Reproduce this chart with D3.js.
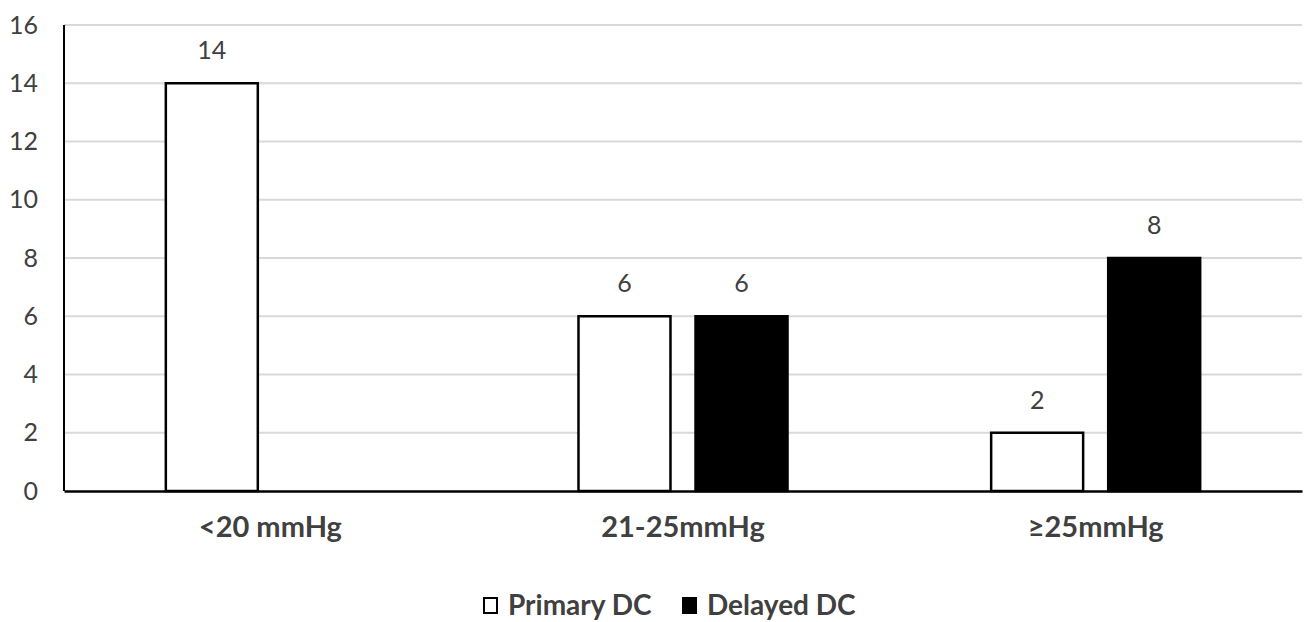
<!DOCTYPE html>
<html>
<head>
<meta charset="utf-8">
<script src="https://cdn.jsdelivr.net/npm/d3@7"></script>
<style>
  body { margin: 0; background: #fff; }
  text { font-family: Lato, "Open Sans", sans-serif; }
</style>
</head>
<body>
<div id="chart"></div>
<script>
var categories = ['<20 mmHg', '21-25mmHg', '\u226525mmHg'];
var series = ['Primary DC', 'Delayed DC'];
var primary = [14, 6, 2];
var delayed = [null, 6, 8];
var yTicks = [0, 2, 4, 6, 8, 10, 12, 14, 16];

var
  w = 1306,
  h = 622,
  mLeft = 64,
  mRight = 1302,
  mTop = 25,
  mBottom = 491,
  fills = {'Primary DC': '#fff', 'Delayed DC': '#000'};

var rows = categories.map(function(c, i) {
  return {cat: c, values: [{key: series[0], v: primary[i]}, {key: series[1], v: delayed[i]}]};
});

var x0 = d3.scaleBand().domain(categories).range([mLeft, mRight]);
var x1 = d3.scaleBand().domain(series).range([0, x0.bandwidth()])
  .paddingInner(0.214).paddingOuter(0.87);
var y = d3.scaleLinear().domain([0, 16]).range([mBottom, mTop]);

var svg = d3.select('#chart').append('svg')
  .attr('width', w)
  .attr('height', h);

// gridlines
svg.append('g').selectAll('line')
  .data(yTicks.filter(function(d) { return d > 0; }))
  .enter().append('line')
  .attr('x1', mLeft).attr('x2', mRight)
  .attr('y1', function(d) { return y(d); })
  .attr('y2', function(d) { return y(d); })
  .attr('stroke', '#d9d9d9')
  .attr('stroke-width', 2);

// y axis labels
var yAxis = d3.axisLeft(y).tickValues(yTicks).tickSize(0).tickPadding(26);
var gy = svg.append('g').attr('transform', 'translate(' + mLeft + ',0)').call(yAxis);
gy.select('.domain').remove();
gy.selectAll('text')
  .attr('font-size', 25)
  .attr('fill', '#404040')
  .attr('font-family', 'Lato, sans-serif');

// bars
var groups = svg.append('g').selectAll('g')
  .data(rows)
  .enter().append('g')
  .attr('transform', function(d) { return 'translate(' + x0(d.cat) + ',0)'; });

var bars = groups.selectAll('g')
  .data(function(d) { return d.values.filter(function(v) { return v.v != null; }); })
  .enter().append('g');

bars.append('rect')
  .attr('x', function(d) { return x1(d.key); })
  .attr('y', function(d) { return y(d.v); })
  .attr('width', x1.bandwidth())
  .attr('height', function(d) { return y(0) - y(d.v); })
  .attr('fill', function(d) { return fills[d.key]; })
  .attr('stroke', '#000')
  .attr('stroke-width', 2.5);

bars.append('text')
  .attr('x', function(d) { return x1(d.key) + x1.bandwidth() / 2; })
  .attr('y', function(d) { return y(d.v) - 24; })
  .attr('text-anchor', 'middle')
  .attr('font-size', 25)
  .attr('fill', '#404040')
  .text(function(d) { return d.v; });

// axis lines
svg.append('line')
  .attr('x1', mLeft).attr('x2', mLeft)
  .attr('y1', mTop).attr('y2', mBottom)
  .attr('stroke', '#000').attr('stroke-width', 2);

var xAxis = d3.axisBottom(x0).tickSize(0).tickPadding(25);
var gx = svg.append('g').attr('transform', 'translate(0,' + mBottom + ')').call(xAxis);
gx.select('.domain').attr('stroke', '#000').attr('stroke-width', 2.5);
gx.selectAll('text')
  .attr('font-size', 29)
  .attr('font-weight', 'bold')
  .attr('fill', '#404040')
  .attr('font-family', 'Lato, sans-serif');

// legend
var legendX = [484, 683];
var legend = svg.append('g').selectAll('g')
  .data(series)
  .enter().append('g')
  .attr('transform', function(d, i) { return 'translate(' + legendX[i] + ',598)'; });

legend.append('rect')
  .attr('width', 13).attr('height', 15)
  .attr('fill', function(d) { return fills[d]; })
  .attr('stroke', '#000')
  .attr('stroke-width', 2);

legend.append('text')
  .attr('x', 24)
  .attr('y', 17)
  .attr('font-size', 28)
  .attr('font-weight', 'bold')
  .attr('fill', '#404040')
  .text(function(d) { return d; });
</script>
</body>
</html>
